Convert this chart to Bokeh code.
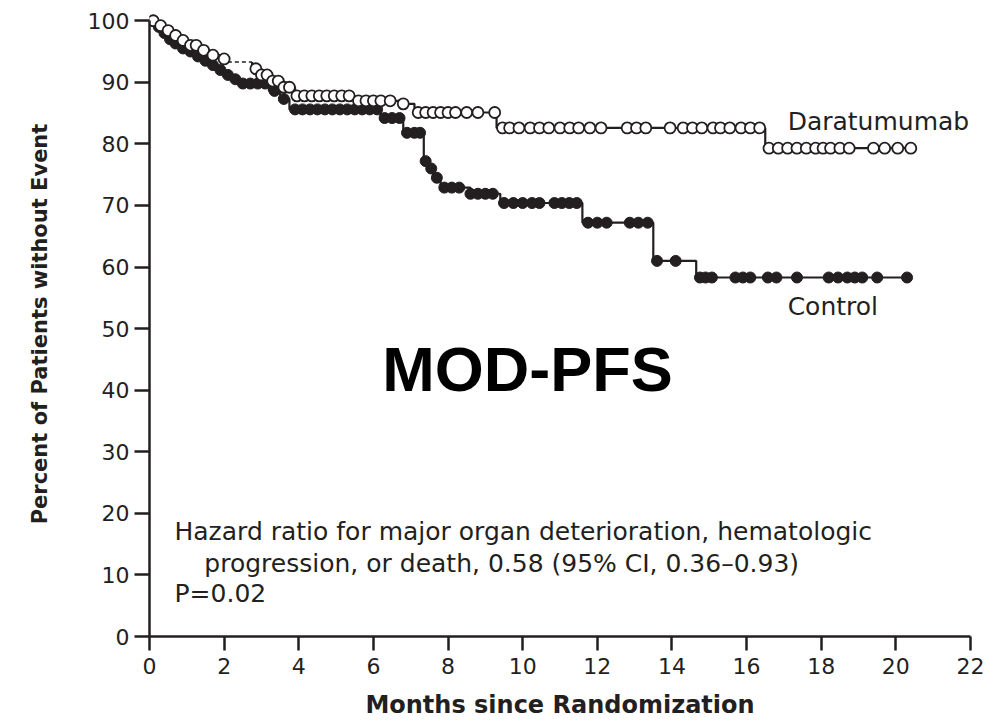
import numpy as np
from bokeh.plotting import figure
from bokeh.models import Label, Range1d, FixedTicker
from bokeh.embed import file_html
from bokeh.resources import INLINE

# ---------------- data ----------------
month_ticks = [0, 2, 4, 6, 8, 10, 12, 14, 16, 18, 20, 22]
pct_ticks = [0, 10, 20, 30, 40, 50, 60, 70, 80, 90, 100]

# Daratumumab: event times (months) and survival level after the event (%)
dara_t = [0, 0.2, 0.4, 0.6, 0.8, 1.0, 1.3, 1.6, 1.9, 2.1, 2.75, 3.0, 3.3, 3.6, 3.9, 5.5, 6.7, 7.1, 9.3, 16.5]
dara_s = [100, 99.2, 98.4, 97.6, 96.8, 96.0, 95.2, 94.4, 93.8, 93.3, 92.2, 91.2, 90.2, 89.2, 87.8, 87.0, 86.5, 85.1, 82.6, 79.3]
dara_end = 20.4
dara_censor = [0.1, 0.3, 0.5, 0.7, 0.9, 1.1, 1.25, 1.45, 1.7, 2.0, 2.85, 3.0, 3.15, 3.3, 3.45, 3.6,
               3.75, 3.95, 4.15, 4.35, 4.55, 4.75, 4.95, 5.15, 5.35, 5.6, 5.8, 6.0, 6.2, 6.45, 6.8,
               7.2, 7.4, 7.6, 7.8, 8.0, 8.2, 8.5, 8.8, 9.25, 9.46, 9.65, 9.9, 10.2, 10.45, 10.7,
               11.0, 11.26, 11.5, 11.8, 12.1, 12.8, 13.05, 13.3, 13.95, 14.3, 14.55, 14.8, 15.1,
               15.3, 15.55, 15.85, 16.1, 16.35, 16.6, 16.85, 17.1, 17.35, 17.6, 17.85, 18.05,
               18.25, 18.5, 18.75, 19.4, 19.7, 20.05, 20.4]

# Control
ctrl_t = [0, 0.15, 0.3, 0.45, 0.6, 0.8, 1.0, 1.2, 1.4, 1.6, 1.8, 2.0, 2.2, 2.4, 3.2, 3.5, 3.75,
          6.2, 6.8, 7.35, 7.45, 7.6, 7.8, 8.6, 9.4, 11.6, 13.5, 14.65]
ctrl_s = [100, 99.0, 98.0, 97.0, 96.3, 95.5, 95.0, 94.2, 93.5, 92.8, 92.0, 91.2, 90.5, 89.8,
          88.6, 87.3, 85.6, 84.2, 81.8, 77.2, 76.0, 74.5, 72.9, 71.9, 70.4, 67.2, 61.0, 58.3]
ctrl_end = 20.3
ctrl_censor = [0.1, 0.25, 0.4, 0.55, 0.7, 0.9, 1.1, 1.3, 1.5, 1.7, 1.9, 2.1, 2.3, 2.5, 2.7, 2.9,
               3.1, 3.35, 3.6, 3.9, 4.1, 4.3, 4.5, 4.7, 4.9, 5.1, 5.3, 5.5, 5.7, 5.9, 6.1, 6.3,
               6.5, 6.7, 6.9, 7.1, 7.25, 7.4, 7.55, 7.7, 7.9, 8.1, 8.3, 8.6, 8.8, 9.0, 9.2, 9.5,
               9.75, 10.0, 10.25, 10.45, 10.85, 11.05, 11.25, 11.45, 11.75, 12.0, 12.25, 12.87,
               13.1, 13.35, 13.6, 14.1, 14.75, 14.9, 15.07, 15.7, 15.9, 16.1, 16.57, 16.8, 17.35,
               18.2, 18.45, 18.7, 18.9, 19.1, 19.5, 20.3]

INK = "#231f20"
FONT = "DejaVu Sans"


def km_path(t, s, t_end):
    xs, ys = [t[0]], [s[0]]
    for i in range(1, len(t)):
        xs += [t[i], t[i]]
        ys += [s[i - 1], s[i]]
    xs.append(t_end)
    ys.append(s[-1])
    return xs, ys


def level_at(t, s, c):
    idx = np.searchsorted(np.array(t), np.array(c), side="right") - 1
    return list(np.array(s)[idx])


p = figure(width=990, height=726, x_range=Range1d(0, 22), y_range=Range1d(0, 101.5),
           output_backend="svg", toolbar_location=None,
           min_border_left=149, min_border_right=20, min_border_top=11, min_border_bottom=90)
p.outline_line_color = None
p.xgrid.visible = False
p.ygrid.visible = False
p.background_fill_color = "white"
p.border_fill_color = "white"

# Control curve
cx, cy = km_path(ctrl_t, ctrl_s, ctrl_end)
p.line(cx, cy, line_color=INK, line_width=2.2)
p.scatter(ctrl_censor, level_at(ctrl_t, ctrl_s, ctrl_censor), marker="circle", size=11,
          fill_color=INK, line_color=INK, line_width=1)

# Daratumumab curve (dashed piece where the curve has a short gap)
k = dara_t.index(2.1)
ax, ay = km_path(dara_t[:k + 1], dara_s[:k + 1], dara_t[k])
p.line(ax, ay, line_color=INK, line_width=2.2)
p.line([dara_t[k], dara_t[k + 1]], [dara_s[k], dara_s[k]], line_color=INK, line_width=1.6,
       line_dash="4 3")
bx, by = km_path(dara_t[k + 1:], dara_s[k + 1:], dara_end)
bx = [dara_t[k + 1]] + bx
by = [dara_s[k]] + by
p.line(bx, by, line_color=INK, line_width=2.2)
p.scatter(dara_censor, level_at(dara_t, dara_s, dara_censor), marker="circle", size=11,
          fill_color="white", line_color=INK, line_width=1.8)

# Axes
for ax_ in (p.xaxis[0], p.yaxis[0]):
    ax_.axis_line_color = INK
    ax_.axis_line_width = 2.5
    ax_.major_tick_line_color = INK
    ax_.major_tick_line_width = 2.5
    ax_.major_tick_in = 0
    ax_.minor_tick_line_color = None
    ax_.major_label_text_font = FONT
    ax_.major_label_text_font_size = "22px"
    ax_.major_label_text_color = INK
    ax_.axis_label_text_font = FONT
    ax_.axis_label_text_font_style = "bold"
    ax_.axis_label_text_color = INK

p.xaxis.ticker = FixedTicker(ticks=month_ticks)
p.yaxis.ticker = FixedTicker(ticks=pct_ticks)
p.xaxis.bounds = (0, 22)
p.yaxis.bounds = (0, 100)
p.xaxis.major_tick_out = 14
p.yaxis.major_tick_out = 15
p.xaxis.major_label_standoff = 7
p.yaxis.major_label_standoff = 5
p.xaxis.axis_label = "Months since Randomization"
p.yaxis.axis_label = "Percent of Patients without Event"
p.xaxis.axis_label_text_font_size = "24px"
p.yaxis.axis_label_text_font_size = "21px"
p.xaxis.axis_label_standoff = 14
p.yaxis.axis_label_standoff = 33

# Annotations
def add_text(x, y, txt, size="25px", bold=False, font=FONT, align="left"):
    p.add_layout(Label(x=x, y=y, text=txt, text_font=font, text_font_size=size,
                       text_font_style="bold" if bold else "normal",
                       text_color="black" if bold else INK,
                       text_baseline="middle", text_align=align))

add_text(17.1, 83.6, "Daratumumab")
add_text(17.1, 53.6, "Control")
add_text(10.13, 43.5, "MOD-PFS", size="63px", bold=True, font="Liberation Sans", align="center")
add_text(0.67, 17.0, "Hazard ratio for major organ deterioration, hematologic")
add_text(1.47, 11.85, "progression, or death, 0.58 (95% CI, 0.36\u20130.93)")
add_text(0.67, 7.0, "P=0.02")

open("out.html", "w").write(file_html(p, INLINE))
